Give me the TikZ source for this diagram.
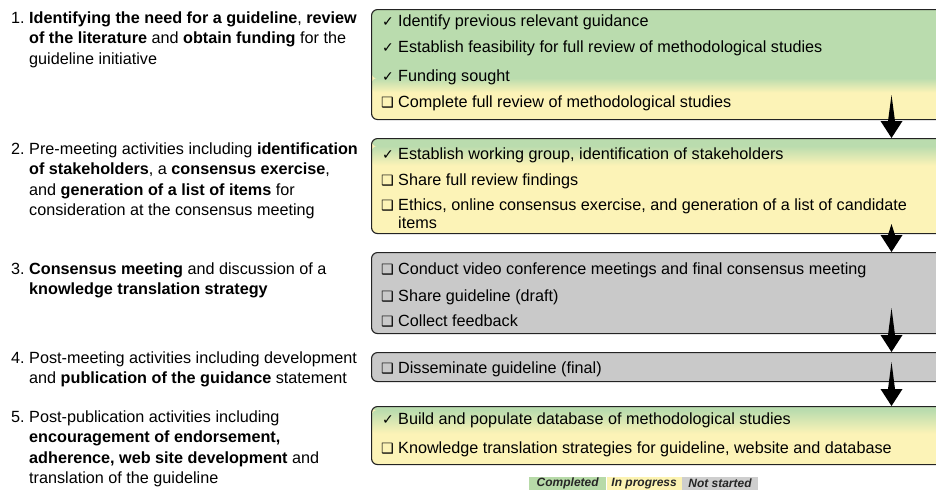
\documentclass[tikz,border=0pt]{standalone}
\usepackage{fontspec}
\setmainfont{Liberation Sans}
\newfontfamily\symfont{DejaVu Sans}
\usetikzlibrary{calc}
\definecolor{grn}{RGB}{186,220,174}
\definecolor{ylw}{RGB}{252,243,183}
\definecolor{gry}{RGB}{201,201,201}
\definecolor{edge}{RGB}{35,35,35}
\definecolor{lgrn}{RGB}{183,218,168}
\definecolor{lylw}{RGB}{252,243,178}
\definecolor{lgry}{RGB}{206,206,206}
\newcommand{\mychk}{{\symfont\fontsize{14}{14}\selectfont ✓}}
\newcommand{\mybx}{{\symfont\fontsize{14.2}{14.2}\selectfont ❑}}
\tikzset{
  lefttxt/.style={anchor=north west, align=left, inner sep=0pt, font=\fontsize{16.2}{20.5}\selectfont},
  leftnum/.style={anchor=base west, inner sep=0pt, font=\fontsize{16.2}{20.5}\selectfont},
  itemtxt/.style={anchor=base west, align=left, inner sep=0pt, font=\fontsize{16.2}{18}\selectfont},
  symb/.style={anchor=base west, inner sep=0pt},
  panel/.style={draw=edge, line width=1.1pt, rounded corners=6pt, anchor=north west,
    minimum width=600pt, inner sep=0pt},
  legtxt/.style={inner sep=0pt, minimum height=13pt, font=\fontsize{12}{12}\selectfont\bfseries\itshape, text=black!85},
  grad/.style n args={2}{path picture={
   \fill[ylw] (path picture bounding box.south west) rectangle (path picture bounding box.north east);
   \fill[grn] (path picture bounding box.north west) rectangle ([yshift=-#1]path picture bounding box.north east);
   \shade[top color=grn, bottom color=ylw] ([yshift=-#1+0.5pt]path picture bounding box.north west) rectangle ([yshift=-#2]path picture bounding box.north east);
  }}
}
\begin{document}
\begin{tikzpicture}[x=1pt,y=-1pt]
\useasboundingbox (0,0) rectangle (936,490);

% ---------- left column ----------
\node[leftnum] (n1) at (11,23) {1.};
\node[lefttxt] (t1) at (29,23-14.35) {\strut\textbf{Identifying the need for a guideline}, \textbf{review}\\
\textbf{of the literature} and \textbf{obtain funding} for the\\
guideline initiative};
\node[leftnum] (n2) at (11,154) {2.};
\node[lefttxt] (t2) at (29,154-14.35) {\strut Pre-meeting activities including \textbf{identification}\\
\textbf{of stakeholders}, a \textbf{consensus exercise},\\
and \textbf{generation of a list of items} for\\
consideration at the consensus meeting};
\node[leftnum] (n3) at (11,274) {3.};
\node[lefttxt] (t3) at (29,274-14.35) {\strut\textbf{Consensus meeting} and discussion of a\\
\textbf{knowledge translation strategy}};
\node[leftnum] (n4) at (11,363) {4.};
\node[lefttxt] (t4) at (29,363-14.35) {\strut Post-meeting activities including development\\
and \textbf{publication of the guidance} statement};
\node[leftnum] (n5) at (11,422) {5.};
\node[lefttxt] (t5) at (29,422-14.35) {\strut Post-publication activities including\\
\textbf{encouragement of endorsement,}\\
\textbf{adherence, web site development} and\\
translation of the guideline};

% ---------- panels ----------
\node[panel, minimum height=110pt, grad={69pt}{83pt}] (b1) at (371,9) {};
\node[panel, minimum height=95pt, grad={8pt}{27pt}] (b2) at (371,138) {};
\node[panel, minimum height=81pt, fill=gry] (b3) at (371,252) {};
\node[panel, minimum height=29pt, fill=gry] (b4) at (371,352) {};
\node[panel, minimum height=58pt, grad={4pt}{27pt}] (b5) at (371,406) {};

% ---------- panel items ----------
\node[symb] (s11) at (382,26) {\mychk};
\node[itemtxt] (i11) at (398,26) {Identify previous relevant guidance};
\node[symb] (s12) at (382,52) {\mychk};
\node[itemtxt] (i12) at (398,52) {Establish feasibility for full review of methodological studies};
\node[symb] (s13) at (382,81) {\mychk};
\node[itemtxt] (i13) at (398,81) {Funding sought};
\node[symb] (s14) at (381,107) {\mybx};
\node[itemtxt] (i14) at (398,107) {Complete full review of methodological studies};

\node[symb] (s21) at (382,159) {\mychk};
\node[itemtxt] (i21) at (398,159) {Establish working group, identification of stakeholders};
\node[symb] (s22) at (381,185) {\mybx};
\node[itemtxt] (i22) at (398,185) {Share full review findings};
\node[symb] (s23) at (381,210) {\mybx};
\node[itemtxt, anchor=north west] (i23) at (398,210-12.6) {\strut Ethics, online consensus exercise, and generation of a list of candidate\\items};

\node[symb] (s31) at (381,274) {\mybx};
\node[itemtxt] (i31) at (398,274) {Conduct video conference meetings and final consensus meeting};
\node[symb] (s32) at (381,301) {\mybx};
\node[itemtxt] (i32) at (398,301) {Share guideline (draft)};
\node[symb] (s33) at (381,326) {\mybx};
\node[itemtxt] (i33) at (398,326) {Collect feedback};

\node[symb] (s41) at (381,373) {\mybx};
\node[itemtxt] (i41) at (398,373) {Disseminate guideline (final)};

\node[symb] (s51) at (382,424) {\mychk};
\node[itemtxt] (i51) at (398,424) {Build and populate database of methodological studies};
\node[symb] (s52) at (381,453) {\mybx};
\node[itemtxt] (i52) at (398,453) {Knowledge translation strategies for guideline, website and database};

% ---------- arrows ----------
\coordinate (a1s) at (891.5,95);   \coordinate (a1e) at (b2.north -| a1s);
\coordinate (a2s) at (891.5,224);  \coordinate (a2e) at (b3.north -| a2s);
\coordinate (a3s) at (891.5,308);  \coordinate (a3e) at (b4.north -| a3s);
\coordinate (a4s) at (891.5,362);  \coordinate (a4e) at (b5.north -| a4s);
\foreach \s/\e in {a1s/a1e, a2s/a2e, a3s/a3e, a4s/a4e}{
  \fill[black] (\s) -- ($(\e)+(3.5,-17)$) -- ($(\e)+(11,-17)$) -- (\e)
     -- ($(\e)+(-11,-17)$) -- ($(\e)+(-3.5,-17)$) -- cycle;
}

% ---------- legend ----------
\node[legtxt, fill=lgrn, minimum width=77pt, anchor=north west] (lc) at (529,477) {Completed};
\node[legtxt, fill=lylw, minimum width=75pt, anchor=west] (lp) at (lc.east) {In progress};
\node[legtxt, fill=lgry, minimum width=76pt, anchor=west] (ln) at (lp.east) {Not started};
\end{tikzpicture}
\end{document}
